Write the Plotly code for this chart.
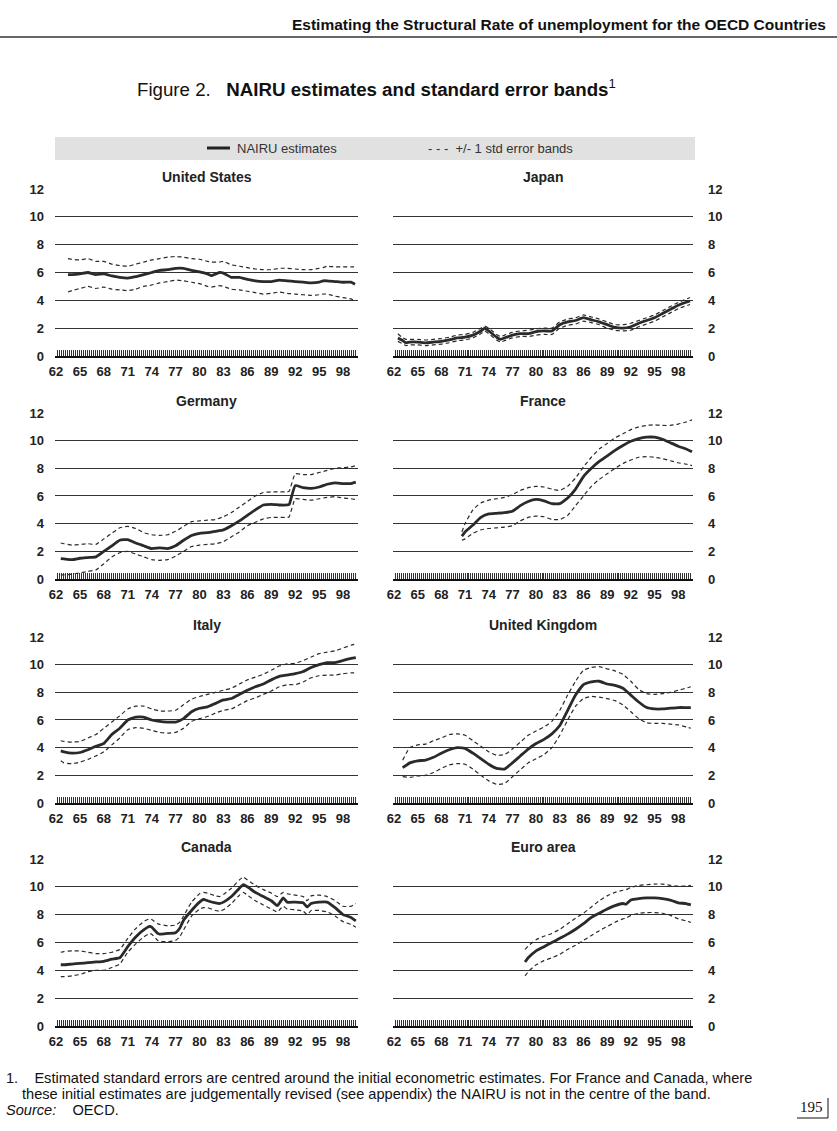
import plotly.graph_objects as go

W, H = 837, 1131

# ---------------- data (x = year, 2-digit, decimal) ----------------
us_x = [63.5, 64, 65, 66, 67, 68, 69, 70, 71, 72, 73, 74, 75, 76, 77, 78, 79, 80, 81, 81.5,
        82.5, 83, 84, 85, 86, 87, 88, 89, 90, 91, 92, 93, 94, 95, 95.5, 96, 97, 98, 99, 99.5]
us_mid = [5.85, 5.85, 5.9, 6.0, 5.85, 5.9, 5.75, 5.65, 5.6, 5.7, 5.85, 6.0, 6.15, 6.2, 6.3, 6.3, 6.15, 6.05, 5.9, 5.78,
          6.0, 5.95, 5.65, 5.65, 5.5, 5.4, 5.35, 5.35, 5.45, 5.4, 5.35, 5.3, 5.25, 5.3, 5.4, 5.4, 5.35, 5.3, 5.3, 5.15]
us_up = [7.0, 6.95, 6.9, 7.0, 6.8, 6.8, 6.6, 6.5, 6.45, 6.6, 6.75, 6.9, 7.0, 7.1, 7.15, 7.1, 7.0, 6.95, 6.8, 6.75,
         6.75, 6.8, 6.55, 6.45, 6.35, 6.25, 6.2, 6.2, 6.3, 6.3, 6.25, 6.2, 6.2, 6.3, 6.35, 6.45, 6.4, 6.4, 6.4, 6.4]
us_lo = [4.6, 4.7, 4.85, 5.0, 4.85, 4.95, 4.8, 4.75, 4.7, 4.8, 5.0, 5.1, 5.25, 5.35, 5.45, 5.4, 5.3, 5.2, 5.0, 4.95,
         5.05, 5.0, 4.8, 4.75, 4.65, 4.55, 4.45, 4.5, 4.6, 4.5, 4.45, 4.4, 4.35, 4.4, 4.45, 4.45, 4.3, 4.2, 4.1, 3.95]

jp_x = [62.5, 63, 63.5, 64, 65, 66, 67, 68, 69, 70, 71, 72, 73, 73.5, 74, 75, 75.5, 76, 77, 78, 79, 80,
        81, 82, 83, 84, 85, 86, 87, 88, 89, 90, 91, 92, 93, 94, 95, 96, 97, 98, 99.5]
jp_mid = [1.3, 1.15, 0.95, 1.0, 1.0, 0.95, 1.0, 1.05, 1.15, 1.3, 1.35, 1.5, 1.8, 2.0, 1.8, 1.35, 1.2, 1.3, 1.5, 1.6, 1.6, 1.75,
          1.8, 1.8, 2.25, 2.45, 2.55, 2.75, 2.6, 2.45, 2.25, 2.05, 2.0, 2.1, 2.35, 2.55, 2.75, 3.05, 3.35, 3.65, 3.95]
jp_up = [1.6, 1.35, 1.2, 1.2, 1.2, 1.15, 1.2, 1.25, 1.35, 1.5, 1.55, 1.7, 2.0, 2.15, 2.0, 1.55, 1.4, 1.5, 1.7, 1.8, 1.85, 1.95,
         2.0, 2.0, 2.45, 2.65, 2.75, 2.95, 2.8, 2.65, 2.45, 2.25, 2.25, 2.35, 2.55, 2.75, 2.95, 3.25, 3.55, 3.85, 4.2]
jp_lo = [1.05, 0.9, 0.75, 0.8, 0.8, 0.75, 0.8, 0.85, 0.95, 1.1, 1.15, 1.3, 1.6, 1.8, 1.6, 1.15, 1.0, 1.1, 1.3, 1.4, 1.4, 1.5,
         1.55, 1.55, 2.0, 2.2, 2.3, 2.5, 2.4, 2.25, 2.0, 1.85, 1.8, 1.85, 2.1, 2.3, 2.5, 2.8, 3.1, 3.4, 3.7]

de_x = [62.6, 63, 64, 65, 66, 67, 68, 69, 70, 71, 72, 73, 74, 75, 76, 77, 78, 79, 80, 81,
        82, 83, 84, 85, 86, 87, 88, 89, 90, 91, 91.25, 92, 93, 94, 95, 96, 97, 98, 99, 99.6]
de_mid = [1.47, 1.45, 1.4, 1.5, 1.55, 1.6, 2.0, 2.4, 2.8, 2.85, 2.6, 2.4, 2.2, 2.25, 2.2, 2.4, 2.8, 3.15, 3.3, 3.35,
          3.45, 3.55, 3.85, 4.2, 4.6, 5.0, 5.35, 5.4, 5.35, 5.35, 5.4, 6.75, 6.6, 6.55, 6.65, 6.85, 6.95, 6.9, 6.9, 7.0]
de_up = [2.6, 2.55, 2.45, 2.5, 2.55, 2.5, 2.9, 3.3, 3.7, 3.8, 3.65, 3.35, 3.2, 3.15, 3.2, 3.45, 3.8, 4.15, 4.2, 4.25,
         4.3, 4.5, 4.8, 5.2, 5.6, 6.0, 6.25, 6.3, 6.3, 6.3, 6.35, 7.6, 7.55, 7.55, 7.7, 7.85, 8.0, 8.05, 8.1, 8.2]
de_lo = [0.3, 0.3, 0.35, 0.45, 0.55, 0.65, 1.1, 1.6, 1.9, 2.0, 1.8, 1.6, 1.4, 1.35, 1.4, 1.65, 2.0, 2.35, 2.45, 2.5,
         2.55, 2.7, 3.05, 3.4, 3.85, 4.1, 4.35, 4.45, 4.45, 4.45, 4.5, 5.8, 5.75, 5.7, 5.8, 5.9, 5.95, 5.85, 5.8, 5.75]

fr_x = [70.6, 71, 72, 73, 74, 75, 76, 77, 78, 79, 80, 81, 82, 83, 84, 85, 86, 87, 88, 89,
        90, 91, 92, 93, 94, 95, 96, 97, 98, 99, 99.75]
fr_mid = [3.1, 3.4, 3.9, 4.45, 4.7, 4.75, 4.8, 4.9, 5.3, 5.6, 5.75, 5.65, 5.45, 5.45, 5.85, 6.5, 7.4, 8.0, 8.5, 8.9,
          9.3, 9.65, 9.95, 10.15, 10.25, 10.25, 10.1, 9.85, 9.6, 9.4, 9.2]
fr_up = [3.4, 4.0, 5.0, 5.5, 5.7, 5.8, 5.9, 6.1, 6.4, 6.6, 6.7, 6.65, 6.5, 6.4, 6.7, 7.3, 8.1, 8.8, 9.4, 9.8,
         10.2, 10.5, 10.8, 11.0, 11.1, 11.15, 11.1, 11.1, 11.2, 11.35, 11.5]
fr_lo = [2.8, 2.9, 3.3, 3.55, 3.65, 3.7, 3.75, 3.85, 4.2, 4.45, 4.55, 4.5, 4.3, 4.3, 4.6, 5.3, 6.0, 6.7, 7.2, 7.6,
         8.0, 8.35, 8.6, 8.8, 8.85, 8.8, 8.7, 8.55, 8.4, 8.3, 8.2]

it_x = [62.6, 63, 64, 65, 66, 67, 68, 69, 70, 71, 72, 73, 74, 75, 76, 77, 78, 79, 80, 81,
        82, 83, 84, 85, 86, 87, 88, 89, 90, 91, 92, 93, 94, 95, 96, 97, 98, 99, 99.6]
it_mid = [3.77, 3.7, 3.6, 3.65, 3.85, 4.1, 4.3, 4.95, 5.4, 6.0, 6.2, 6.2, 6.0, 5.9, 5.85, 5.85, 6.1, 6.6, 6.85, 6.95,
          7.2, 7.45, 7.55, 7.85, 8.15, 8.4, 8.6, 8.9, 9.15, 9.25, 9.35, 9.5, 9.8, 10.0, 10.15, 10.15, 10.3, 10.45, 10.5]
it_up = [4.5, 4.45, 4.4, 4.45, 4.7, 4.95, 5.4, 5.85, 6.3, 6.8, 7.0, 7.0, 6.8, 6.65, 6.65, 6.7, 7.1, 7.5, 7.7, 7.85,
         8.0, 8.15, 8.3, 8.6, 8.9, 9.1, 9.3, 9.6, 9.9, 10.05, 10.1, 10.3, 10.55, 10.8, 10.9, 11.0, 11.2, 11.4, 11.5]
it_lo = [3.05, 2.9, 2.85, 2.95, 3.15, 3.4, 3.7, 4.2, 4.7, 5.3, 5.45, 5.4, 5.25, 5.1, 5.05, 5.1, 5.4, 5.9, 6.1, 6.25,
         6.5, 6.7, 6.8, 7.1, 7.4, 7.6, 7.85, 8.1, 8.4, 8.55, 8.55, 8.75, 9.05, 9.2, 9.25, 9.25, 9.35, 9.4, 9.4]

uk_x = [63.1, 64, 65, 66, 67, 68, 69, 70, 71, 72, 73, 74, 75, 76, 77, 78, 79, 80, 81, 82,
        83, 84, 85, 86, 87, 88, 89, 90, 91, 92, 93, 94, 95, 96, 97, 98, 99, 99.6]
uk_mid = [2.55, 2.9, 3.05, 3.1, 3.3, 3.6, 3.85, 4.0, 3.95, 3.6, 3.2, 2.8, 2.5, 2.45, 2.9, 3.4, 3.9, 4.3, 4.6, 5.0,
          5.6, 6.7, 7.8, 8.55, 8.75, 8.8, 8.6, 8.5, 8.3, 7.8, 7.3, 6.9, 6.8, 6.8, 6.85, 6.9, 6.9, 6.9]
uk_up = [3.1, 4.0, 4.2, 4.25, 4.5, 4.7, 4.95, 5.0, 4.9, 4.5, 4.1, 3.7, 3.45, 3.5, 3.9, 4.4, 4.9, 5.2, 5.5, 5.9,
         6.7, 7.8, 8.8, 9.6, 9.8, 9.85, 9.7, 9.55, 9.3, 8.8, 8.2, 7.9, 7.85, 7.9, 8.0, 8.15, 8.3, 8.4]
uk_lo = [1.9, 1.85, 1.95, 2.0, 2.2, 2.5, 2.75, 2.85, 2.8, 2.45, 2.0, 1.6, 1.35, 1.4, 1.9, 2.4, 2.9, 3.2, 3.5, 4.0,
         4.9, 6.0, 7.0, 7.55, 7.7, 7.65, 7.55, 7.4, 7.1, 6.6, 6.1, 5.8, 5.75, 5.75, 5.7, 5.65, 5.5, 5.4]

ca_x = [62.6, 63, 64, 65, 66, 67, 68, 69, 70, 71, 72, 73, 73.75, 74, 74.75, 75, 76, 77, 77.5, 78,
        79, 80, 80.5, 81, 82, 82.5, 83, 84, 85, 85.5, 86, 87, 88, 89, 89.75, 90.5, 91, 92, 93, 93.5,
        94, 95, 96, 97, 98, 99, 99.6]
ca_mid = [4.4, 4.4, 4.45, 4.5, 4.55, 4.6, 4.65, 4.8, 4.9, 5.7, 6.4, 6.9, 7.15, 7.1, 6.65, 6.6, 6.65, 6.7, 7.0, 7.6,
          8.3, 8.9, 9.1, 9.0, 8.85, 8.8, 8.9, 9.3, 9.9, 10.15, 10.0, 9.6, 9.3, 9.0, 8.65, 9.2, 8.9, 8.9, 8.85, 8.55,
          8.8, 8.9, 8.9, 8.5, 8.0, 7.8, 7.55]
ca_up = [5.3, 5.35, 5.4, 5.4, 5.3, 5.2, 5.2, 5.3, 5.5, 6.3, 7.0, 7.5, 7.7, 7.65, 7.35, 7.3, 7.2, 7.25, 7.45, 7.9,
         8.9, 9.5, 9.6, 9.55, 9.35, 9.3, 9.45, 9.9, 10.5, 10.7, 10.5, 10.1, 9.8, 9.55, 9.3, 9.6, 9.5, 9.4, 9.3, 9.0,
         9.35, 9.4, 9.3, 9.0, 8.6, 8.6, 8.8]
ca_lo = [3.55, 3.55, 3.6, 3.7, 3.9, 4.0, 4.0, 4.2, 4.45, 5.3, 5.9, 6.4, 6.65, 6.6, 6.15, 6.1, 6.05, 6.15, 6.4, 6.9,
         7.9, 8.4, 8.5, 8.5, 8.3, 8.25, 8.35, 8.8, 9.4, 9.6, 9.4, 9.0, 8.7, 8.4, 8.2, 8.6, 8.4, 8.35, 8.25, 8.0,
         8.3, 8.3, 8.2, 7.9, 7.5, 7.3, 7.1]

ea_x = [78.6, 79, 80, 81, 82, 83, 84, 85, 86, 87, 88, 89, 90, 91, 91.4, 92, 93, 94, 95, 96, 97, 98, 99, 99.6]
ea_mid = [4.6, 4.9, 5.4, 5.7, 6.0, 6.3, 6.6, 6.95, 7.35, 7.8, 8.1, 8.4, 8.65, 8.8, 8.75, 9.05, 9.15, 9.2, 9.2, 9.15,
          9.05, 8.85, 8.8, 8.7]
ea_up = [5.5, 5.75, 6.2, 6.45, 6.65, 6.95, 7.35, 7.75, 8.1, 8.55, 9.0, 9.35, 9.6, 9.75, 9.8, 9.95, 10.1, 10.15, 10.2,
         10.2, 10.1, 10.05, 10.05, 10.1]
ea_lo = [3.6, 3.9, 4.4, 4.7, 4.9, 5.15, 5.5, 5.8, 6.15, 6.5, 6.85, 7.15, 7.45, 7.7, 7.75, 7.95, 8.1, 8.15, 8.15, 8.1,
         7.95, 7.7, 7.55, 7.45]

countries = ["United States", "Japan", "Germany", "France", "Italy", "United Kingdom", "Canada", "Euro area"]
series = [(us_x, us_mid, us_up, us_lo), (jp_x, jp_mid, jp_up, jp_lo), (de_x, de_mid, de_up, de_lo),
          (fr_x, fr_mid, fr_up, fr_lo), (it_x, it_mid, it_up, it_lo), (uk_x, uk_mid, uk_up, uk_lo),
          (ca_x, ca_mid, ca_up, ca_lo), (ea_x, ea_mid, ea_up, ea_lo)]

x_tick_vals = [62, 65, 68, 71, 74, 77, 80, 83, 86, 89, 92, 95, 98]
x_tick_text = ["62", "65", "68", "71", "74", "77", "80", "83", "86", "89", "92", "95", "98"]
y_tick_vals = [0, 2, 4, 6, 8, 10, 12]
y_tick_text = ["0", "2", "4", "6", "8", "10", "12"]

# ---------------- layout geometry (pixels) ----------------
col_px = [(55, 358), (393, 693)]
row_px = [(189, 356), (413, 579), (637, 803), (859, 1026)]

def px_x(p):
    return p / W

def px_y(p):
    return 1 - p / H

FONT = "Liberation Sans, Arial, sans-serif"
NARROW = "Liberation Sans Narrow, Arial Narrow, Liberation Sans, Arial, sans-serif"
INK = "#222222"

fig = go.Figure()
layout = {}
annotations = []

for i, (name, (xs, mid, up, lo)) in enumerate(zip(countries, series)):
    r, c = divmod(i, 2)
    n = i + 1
    xa = "x" if n == 1 else f"x{n}"
    ya = "y" if n == 1 else f"y{n}"
    for vals, dash, width in ((up, "4px,3px", 1.2), (lo, "4px,3px", 1.2), (mid, "solid", 2.8)):
        fig.add_trace(go.Scatter(x=xs, y=vals, mode="lines", xaxis=xa, yaxis=ya,
                                 line=dict(color="#2a2a2a", width=width, dash=dash, shape="spline", smoothing=0.4),
                                 showlegend=False, hoverinfo="skip"))
    x0, x1 = col_px[c]
    yt, yb = row_px[r]
    layout["xaxis" if n == 1 else f"xaxis{n}"] = dict(
        domain=[px_x(x0), px_x(x1)], anchor=ya, range=[61.875, 99.875], automargin=False,
        showgrid=False, zeroline=False, showline=True, linecolor="#111111", linewidth=1.5,
        tickmode="array", tickvals=x_tick_vals, ticktext=x_tick_text,
        ticks="inside", ticklen=6, tickwidth=1, tickcolor="#333333",
        minor=dict(tickmode="linear", tick0=62, dtick=0.25, ticks="inside", ticklen=6, tickwidth=1,
                   tickcolor="#333333", showgrid=False),
        tickfont=dict(family=FONT, size=13, color=INK, weight="bold"), ticklabelstandoff=3,
        fixedrange=True)
    layout["yaxis" if n == 1 else f"yaxis{n}"] = dict(
        domain=[px_y(yb), px_y(yt - 0.3)], anchor=xa, range=[0, 12.02], automargin=False,
        showgrid=True, gridcolor="#333333", gridwidth=1, zeroline=False, showline=False,
        tickmode="array", tickvals=y_tick_vals, ticktext=y_tick_text, ticks="",
        side="left" if c == 0 else "right",
        ticklabelstandoff=10 if c == 0 else 14,
        tickfont=dict(family=FONT, size=13, color=INK, weight="bold"), fixedrange=True)
    annotations.append(dict(text=f"<b>{name}</b>", xref="paper", yref="paper",
                            x=px_x((x0 + x1) / 2), y=px_y(yt - 12), xanchor="center", yanchor="middle",
                            showarrow=False, font=dict(family=FONT, size=14, color=INK)))

# header / title / legend / footnotes
annotations += [
    dict(text="<b>Estimating the Structural Rate of unemployment for the OECD Countries</b>",
         xref="paper", yref="paper", x=px_x(828), y=px_y(25), xanchor="right", yanchor="middle",
         showarrow=False, font=dict(family=NARROW, size=15.5, color="#111111")),
    dict(text="Figure 2.   <b>NAIRU estimates and standard error bands</b><sup>1</sup>",
         xref="paper", yref="paper", x=px_x(135), y=px_y(88), xanchor="left", yanchor="middle",
         showarrow=False, font=dict(family=FONT, size=18.7, color="#111111")),
    dict(text="NAIRU estimates", xref="paper", yref="paper", x=px_x(235), y=px_y(148),
         xanchor="left", yanchor="middle", showarrow=False, font=dict(family=NARROW, size=13, color="#333333")),
    dict(text="- - -  +/- 1 std error bands", xref="paper", yref="paper", x=px_x(426), y=px_y(148),
         xanchor="left", yanchor="middle", showarrow=False, font=dict(family=NARROW, size=13, color="#333333")),
    dict(text="1.    Estimated standard errors are centred around the initial econometric estimates. For France and Canada, where",
         xref="paper", yref="paper", x=px_x(4), y=px_y(1078), xanchor="left", yanchor="middle",
         showarrow=False, font=dict(family=NARROW, size=14.6, color="#111111")),
    dict(text="these initial estimates are judgementally revised (see appendix) the NAIRU is not in the centre of the band.",
         xref="paper", yref="paper", x=px_x(20), y=px_y(1094), xanchor="left", yanchor="middle",
         showarrow=False, font=dict(family=NARROW, size=14.6, color="#111111")),
    dict(text="<i>Source:</i>    OECD.", xref="paper", yref="paper", x=px_x(4), y=px_y(1110),
         xanchor="left", yanchor="middle", showarrow=False, font=dict(family=NARROW, size=14.6, color="#111111")),
    dict(text="195", xref="paper", yref="paper", x=px_x(825), y=px_y(1107), xanchor="right", yanchor="middle",
         showarrow=False, font=dict(family="Liberation Serif, Times New Roman, serif", size=15, color="#111111")),
]

shapes = [
    dict(type="line", xref="paper", yref="paper", x0=0, x1=1, y0=px_y(37), y1=px_y(37),
         line=dict(color="#333333", width=1.5)),
    dict(type="rect", xref="paper", yref="paper", x0=px_x(55), x1=px_x(695), y0=px_y(160), y1=px_y(137),
         fillcolor="#e1e1e1", line=dict(width=0), layer="below"),
    dict(type="line", xref="paper", yref="paper", x0=px_x(207), x1=px_x(230), y0=px_y(148), y1=px_y(148),
         line=dict(color="#222222", width=3)),
    dict(type="line", xref="paper", yref="paper", x0=px_x(797), x1=px_x(828), y0=px_y(1118), y1=px_y(1118),
         line=dict(color="#111111", width=1)),
    dict(type="line", xref="paper", yref="paper", x0=px_x(828), x1=px_x(828), y0=px_y(1098), y1=px_y(1118),
         line=dict(color="#111111", width=1)),
]

fig.update_layout(width=W, height=H, margin=dict(l=0, r=0, t=0, b=0, autoexpand=False),
                  paper_bgcolor="white", plot_bgcolor="white", showlegend=False,
                  annotations=annotations, shapes=shapes, **layout)

fig.write_html("out.html", config={"displayModeBar": False},
               post_script="document.body.style.margin='0px';document.body.style.padding='0px';")
